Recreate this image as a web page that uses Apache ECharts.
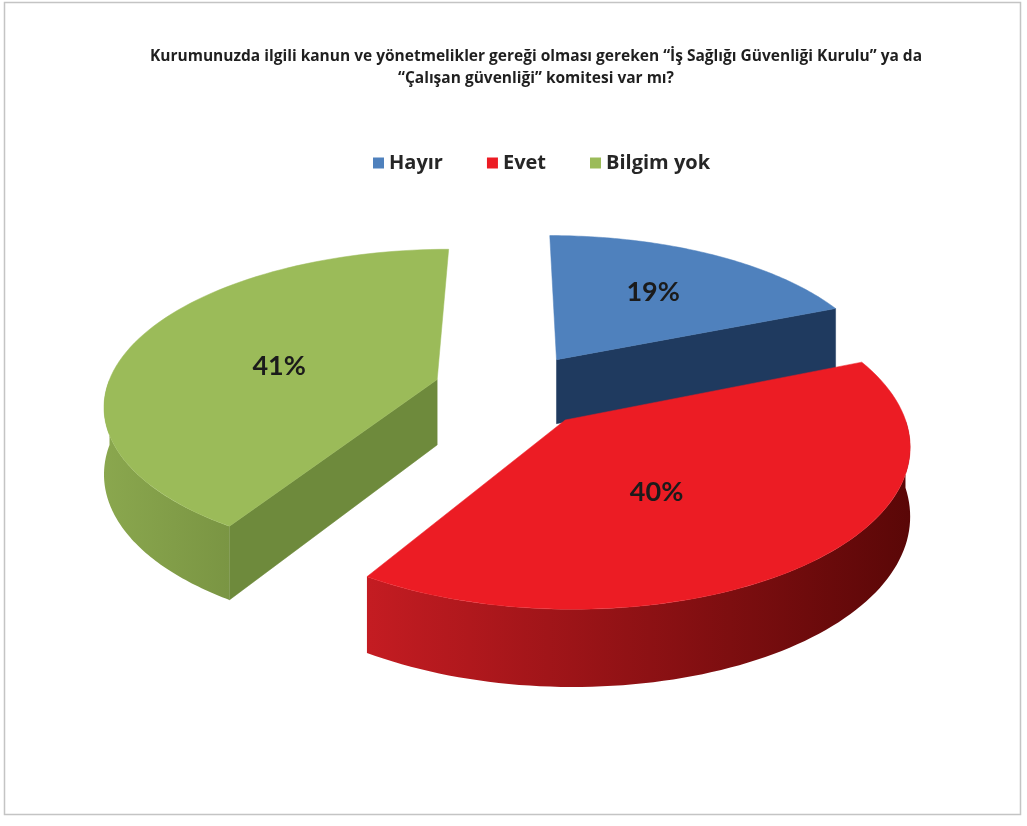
<!DOCTYPE html>
<html>
<head>
<meta charset="utf-8">
<script src="https://cdn.jsdelivr.net/npm/echarts@6/dist/echarts.min.js"></script>
<style>
html,body{margin:0;padding:0;background:#fff;}
#chart{width:1027px;height:826px;}
</style>
</head>
<body>
<div id="chart"></div>
<script>
// ---- data ----
const titleLines = [
  'Kurumunuzda ilgili kanun ve yönetmelikler gereği olması gereken “İş Sağlığı Güvenliği Kurulu” ya da',
  '“Çalışan güvenliği” komitesi var mı?'
];
const categories = ['Hayır', 'Evet', 'Bilgim yok'];
const values = [19, 40, 41];
const valueLabels = ['19%', '40%', '41%'];

// ---- style ----
const topColors = ['#4f81bd', '#ec1c24', '#9bbb59'];
const radialColors = ['#1f3a5f', '#8a1014', '#6e8a3c'];
const wallColors = [
  ['#2b4f7e', '#1c3556'],
  ['#c41c22', '#5a0707'],
  ['#8aa74e', '#7a9543']
];
const labelRadius = [0.6, 0.48, 0.5];
const labelShift = [0, 9, -6]; // degrees
const drawOrder = [1, 3, 2]; // z for each category

const CX = 513, CY = 390, RX = 331, RY = 157, DEPTH = 66, PERSP = 0.15, EXPLODE = 0.241;
const TOTAL = values.reduce((a, b) => a + b, 0);
const FONT = '"Open Sans", Lato, sans-serif';

function proj(X, Z, bottom) {
  const s = 1 + PERSP * Z;
  return [CX + X * RX * s, CY + Z * RY * s + (bottom ? DEPTH * s : 0)];
}

function renderItem(params, api) {
  const i = params.seriesIndex;
  const v = api.value(0);
  let cum = 0;
  for (let k = 0; k < i; k++) cum += values[k];
  const a0 = cum / TOTAL * Math.PI * 2;
  const a1 = (cum + v) / TOTAL * Math.PI * 2;
  const mid = (a0 + a1) / 2;
  const ox = EXPLODE * Math.sin(mid), oz = -EXPLODE * Math.cos(mid);
  const rim = (a, bottom) => proj(ox + Math.sin(a), oz - Math.cos(a), bottom);
  const apex = (bottom) => proj(ox, oz, bottom);
  const children = [];
  const N = 80;

  if (Math.sin(a0) < 0) {
    children.push({type: 'polygon', shape: {points: [apex(false), rim(a0, false), rim(a0, true), apex(true)]},
      style: {fill: radialColors[i], stroke: radialColors[i], lineWidth: 0.5}});
  }
  if (Math.sin(a1) > 0) {
    children.push({type: 'polygon', shape: {points: [apex(false), rim(a1, false), rim(a1, true), apex(true)]},
      style: {fill: radialColors[i], stroke: radialColors[i], lineWidth: 0.5}});
  }
  const b0 = Math.max(a0, Math.PI / 2), b1 = Math.min(a1, Math.PI * 1.5);
  if (b1 > b0) {
    const topPts = [], botPts = [];
    for (let k = 0; k <= N; k++) {
      const a = b0 + (b1 - b0) * k / N;
      topPts.push(rim(a, false));
      botPts.push(rim(a, true));
    }
    const pts = topPts.concat(botPts.reverse());
    children.push({type: 'polygon', shape: {points: pts},
      style: {fill: new echarts.graphic.LinearGradient(0, 0, 1, 0, [
        {offset: 0, color: wallColors[i][0]}, {offset: 1, color: wallColors[i][1]}]),
        stroke: null}});
  }
  const tp = [apex(false)];
  for (let k = 0; k <= N; k++) tp.push(rim(a0 + (a1 - a0) * k / N, false));
  children.push({type: 'polygon', shape: {points: tp},
    style: {fill: topColors[i], stroke: topColors[i], lineWidth: 0.5}});
  const lr = labelRadius[i];
  const la = mid + labelShift[i] * Math.PI / 180;
  const lp = proj(ox + lr * Math.sin(la), oz - lr * Math.cos(la), false);
  children.push({type: 'text', style: {text: valueLabels[i], x: lp[0], y: lp[1],
    align: 'center', verticalAlign: 'middle', fontSize: 27, fontWeight: 'bold',
    fontFamily: 'Lato, "Open Sans", sans-serif', fill: '#1b1b1b'}});
  return {type: 'group', children};
}

const chart = echarts.init(document.getElementById('chart'), null, {renderer: 'canvas'});
chart.setOption({
  backgroundColor: '#ffffff',
  animation: false,
  title: {
    text: titleLines.join('\n'),
    left: 531, textAlign: 'center', top: 41,
    textStyle: {fontSize: 15.5, fontWeight: 'bold', fontFamily: FONT,
      color: '#1f1f1f', lineHeight: 22}
  },
  legend: {
    data: categories,
    top: 148, left: 368,
    icon: 'rect', itemWidth: 11, itemHeight: 11, itemGap: 44,
    textStyle: {fontSize: 20, fontWeight: 'bold', fontFamily: FONT, color: '#262626'}
  },
  graphic: [{type: 'rect', shape: {x: 4.5, y: 2.5, width: 1016, height: 812},
    style: {fill: null, stroke: '#c4c4c4', lineWidth: 1.5}, silent: true}],
  series: categories.map((name, i) => ({
    type: 'custom', name, coordinateSystem: 'none', z: drawOrder[i],
    itemStyle: {color: topColors[i]},
    renderItem, data: [[values[i]]]
  }))
});
</script>
</body>
</html>
